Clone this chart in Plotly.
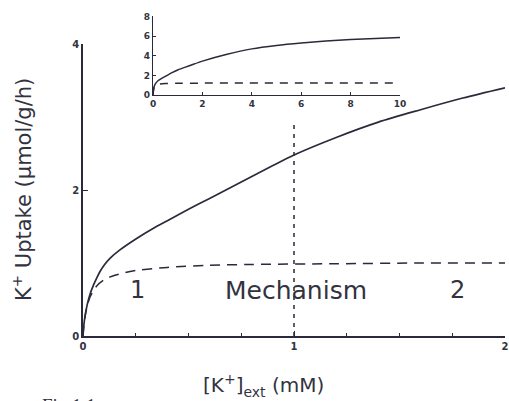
import plotly.graph_objects as go

# ---- main panel data ----
main_x_solid = [0, 0.004, 0.01, 0.02, 0.033, 0.05, 0.066, 0.08, 0.1, 0.13, 0.175, 0.256, 0.33, 0.4,
                0.5, 0.6, 0.7, 0.8, 0.9, 1.0, 1.2, 1.4, 1.6, 1.8, 2.0]
main_y_solid = [0, 0.15, 0.28, 0.43, 0.57, 0.7, 0.8, 0.88, 0.97, 1.07, 1.18, 1.34, 1.47, 1.58,
                1.735, 1.885, 2.035, 2.185, 2.335, 2.48, 2.72, 2.93, 3.1, 3.26, 3.40]
main_x_dash = [0, 0.004, 0.01, 0.02, 0.033, 0.05, 0.066, 0.1, 0.128, 0.2, 0.256, 0.4, 0.6, 0.8,
               1.2, 1.6, 2.0]
main_y_dash = [0, 0.14, 0.27, 0.41, 0.53, 0.62, 0.69, 0.77, 0.81, 0.87, 0.9, 0.94, 0.97, 0.98,
               0.99, 1.0, 1.0]
marker_x = [1, 1]
marker_y = [0, 2.95]

# ---- inset data ----
inset_x_solid = [0, 0.02, 0.05, 0.1, 0.2, 0.35, 0.5, 0.75, 1, 1.5, 2, 3, 4, 5, 6, 7, 8, 9, 10]
inset_y_solid = [0, 0.6, 0.9, 1.15, 1.45, 1.7, 1.9, 2.25, 2.55, 3.0, 3.45, 4.15, 4.7, 5.05, 5.3,
                 5.5, 5.65, 5.75, 5.85]
inset_x_dash = [0, 0.02, 0.05, 0.1, 0.2, 0.5, 1, 10]
inset_y_dash = [0, 0.45, 0.8, 1.0, 1.1, 1.17, 1.2, 1.22]

main_xticks = [0, 1, 2]
main_yticks = [0, 2, 4]
inset_xticks = [0, 2, 4, 6, 8, 10]
inset_yticks = [0, 2, 4, 6, 8]

INK = "#2a2a3a"
TXT = "#333340"

fig = go.Figure()
fig.add_trace(go.Scatter(x=main_x_solid, y=main_y_solid, mode="lines",
                         line=dict(color=INK, width=1.7, shape="spline", smoothing=0.8),
                         showlegend=False))
fig.add_trace(go.Scatter(x=main_x_dash, y=main_y_dash, mode="lines",
                         line=dict(color=INK, width=1.5, dash="10px,7px", shape="spline",
                                   smoothing=0.8), showlegend=False))
fig.add_trace(go.Scatter(x=marker_x, y=marker_y, mode="lines",
                         line=dict(color=INK, width=1.5, dash="4px,5px"), showlegend=False))
fig.add_trace(go.Scatter(x=inset_x_solid, y=inset_y_solid, mode="lines", xaxis="x2", yaxis="y2",
                         line=dict(color=INK, width=1.5, shape="spline", smoothing=0.8),
                         showlegend=False))
fig.add_trace(go.Scatter(x=inset_x_dash, y=inset_y_dash, mode="lines", xaxis="x2", yaxis="y2",
                         line=dict(color=INK, width=1.5, dash="8px,7px", shape="spline",
                                   smoothing=0.6), showlegend=False))

tickfont = dict(family="DejaVu Sans", size=10, color=TXT, weight="bold")
inset_tickfont = dict(family="DejaVu Sans", size=9, color=TXT, weight="bold")

fig.update_layout(
    width=509, height=401, autosize=False,
    margin=dict(l=83, r=4, t=10, b=65, autoexpand=False),
    paper_bgcolor="white", plot_bgcolor="white",
    xaxis=dict(domain=[0, 1], range=[0, 2], tickvals=main_xticks, showline=True, automargin=False,
               linecolor=INK, linewidth=1.5, ticks="inside", ticklen=5, tickcolor=INK,
               minor=dict(ticks="inside", ticklen=3, dtick=0.25, tick0=0, tickcolor=INK),
               showgrid=False, zeroline=False, tickfont=tickfont),
    yaxis=dict(domain=[0, 0.8957], range=[0, 4], tickvals=main_yticks, showline=True,
               automargin=False,
               linecolor=INK, linewidth=1.5, ticks="inside", ticklen=5, tickcolor=INK,
               showgrid=False, zeroline=False, tickfont=tickfont),
    xaxis2=dict(domain=[0.1659, 0.7512], anchor="y2", range=[0, 10], tickvals=inset_xticks,
                automargin=False,
                showline=True, linecolor=INK, linewidth=1.3, ticks="inside", ticklen=3,
                tickcolor=INK, showgrid=False, zeroline=False, tickfont=inset_tickfont),
    yaxis2=dict(domain=[0.7393, 0.9801], anchor="x2", range=[0, 8], tickvals=inset_yticks,
                automargin=False,
                showline=True, linecolor=INK, linewidth=1.3, ticks="inside", ticklen=3,
                tickcolor=INK, showgrid=False, zeroline=False, tickfont=inset_tickfont),
    annotations=[
        dict(text="K<sup>+</sup> Uptake (μmol/g/h)", xref="paper", yref="paper",
             x=(22 - 83) / 422, y=(336 - 190) / 326, xanchor="center", yanchor="middle",
             textangle=-90, showarrow=False,
             font=dict(family="DejaVu Sans", size=21, color=TXT)),
        dict(text="[K<sup>+</sup>]<sub>ext</sub> (mM)", xref="paper", yref="paper",
             x=(263 - 83) / 422, y=(336 - 385) / 326, xanchor="center", yanchor="middle",
             showarrow=False,
             font=dict(family="DejaVu Sans", size=20, color=TXT)),
        dict(text="Fig.1.1a", xref="paper", yref="paper", x=(40 - 83) / 422,
             y=(336 - 393) / 326, xanchor="left", yanchor="top", showarrow=False,
             font=dict(family="Liberation Serif", size=19, color=TXT)),
        dict(text="1", x=0.256, y=0.63, xref="x", yref="y", showarrow=False,
             xanchor="center", yanchor="middle",
             font=dict(family="DejaVu Sans", size=24, color=TXT)),
        dict(text="Mechanism", x=1.01, y=0.63, xref="x", yref="y", showarrow=False,
             xanchor="center", yanchor="middle",
             font=dict(family="DejaVu Sans", size=25, color=TXT)),
        dict(text="2", x=1.777, y=0.63, xref="x", yref="y", showarrow=False,
             xanchor="center", yanchor="middle",
             font=dict(family="DejaVu Sans", size=24, color=TXT)),
    ],
)

fig.write_html("out.html")
